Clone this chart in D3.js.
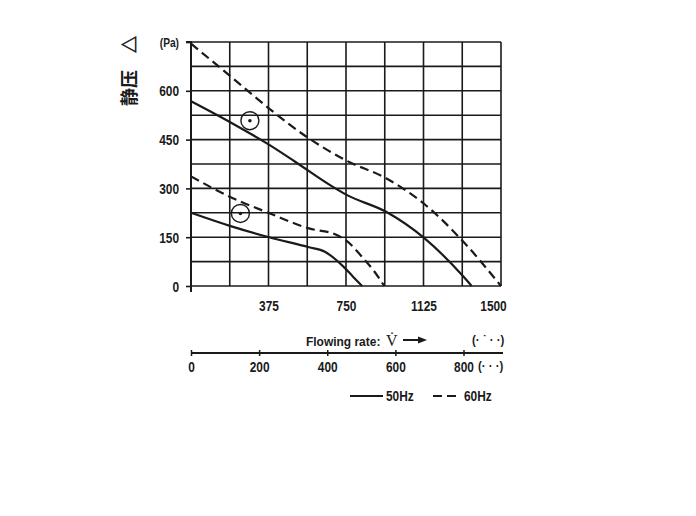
<!DOCTYPE html>
<html>
<head>
<meta charset="utf-8">
<script src="https://cdn.jsdelivr.net/npm/d3@7"></script>
<style>
  html, body { margin: 0; padding: 0; background: #ffffff; }
  svg text { font-family: "Liberation Sans", Arial, sans-serif; font-weight: bold; fill: #1a1a1a; }
</style>
</head>
<body>
<svg id="chart" width="696" height="516"></svg>
<script>
// ---- data ----
const xTicks = [375, 750, 1125, 1500];
const xGrid = [0, 187.5, 375, 562.5, 750, 937.5, 1125, 1312.5, 1500];
const yTicks = [0, 150, 300, 450, 600];
const yGrid = [0, 75, 150, 225, 300, 375, 450, 525, 600, 675, 750];
const flowTicks = [0, 200, 400, 600, 800];

// upper pair
const hz60Upper = [[0, 745], [194, 643], [381, 544], [570, 454], [753, 385], [944, 331], [1129, 252], [1318, 136], [1500, 0]];
const hz50Upper = [[0, 568], [194, 502], [381, 433], [504, 382], [673, 310], [753, 280], [944, 228], [1129, 147], [1318, 29], [1358, 0]];
// lower pair
const hz60Lower = [[0, 337], [192, 273], [382, 223], [571, 177], [700, 158], [750, 140], [834, 85], [882, 49], [935, 0]];
const hz50Lower = [[0, 225], [192, 184], [382, 149], [571, 119], [648, 105], [673, 95], [740, 58], [785, 28], [828, 0]];
// design-point markers
const markers = [[285, 508], [239, 223]];

const svg = d3.select("#chart");
const x = d3.scaleLinear().domain([0, 1500]).range([191, 501]);
const y = d3.scaleLinear().domain([0, 750]).range([286, 42]);
const xf = d3.scaleLinear().domain([0, 800]).range([191, 463.5]);

const ink = "#1a1a1a";
const SX = 0.85;   // horizontal condensing of the label font
const FS = 14;

function label(px, py, txt, opts = {}) {
  const t = svg.append("text")
    .attr("transform", `translate(${px},${py}) scale(${opts.sx || SX},1)`)
    .attr("text-anchor", opts.anchor || "start")
    .style("font-size", (opts.size || FS) + "px")
    .text(txt);
  if (opts.family) t.style("font-family", opts.family);
  if (opts.weight) t.style("font-weight", opts.weight);
  return t;
}

// grid
const g = svg.append("g");
g.selectAll("line.h").data(yGrid).join("line")
  .attr("x1", x(0)).attr("x2", x(1500))
  .attr("y1", d => y(d)).attr("y2", d => y(d))
  .attr("stroke", ink).attr("stroke-width", 1.6);
g.selectAll("line.v").data(xGrid).join("line")
  .attr("y1", y(0)).attr("y2", y(750))
  .attr("x1", d => x(d)).attr("x2", d => x(d))
  .attr("stroke", ink).attr("stroke-width", 1.6);

// y axis ticks + labels
const yAxis = d3.axisLeft(y).tickValues(yGrid.filter(d => d % 150 === 0 || d === 750)).tickSize(5).tickPadding(7)
  .tickFormat(d => yTicks.includes(d) ? d : "");
const ya = svg.append("g").attr("transform", `translate(${x(0)},0)`).call(yAxis);
ya.select(".domain").attr("stroke", ink).attr("stroke-width", 2).attr("d", `M-5,${y(750)}H0V${y(0) + 6}`);
ya.selectAll(".tick line").attr("stroke", ink).attr("stroke-width", 1.6);
ya.selectAll(".tick text").style("font-size", FS + "px").attr("dy", "0.36em")
  .attr("x", -12 / SX).attr("transform", `scale(${SX},1)`);

// (Pa)
label(179, 47, "(Pa)", {anchor: "end", size: 12});

// x axis labels
const xAxis = d3.axisBottom(x).tickValues(xTicks).tickSize(0).tickPadding(15).tickFormat(d => d);
const xa = svg.append("g").attr("transform", `translate(0,${y(0)})`).call(xAxis);
xa.select(".domain").remove();
xa.selectAll(".tick text").style("font-size", FS + "px")
  .attr("transform", `scale(${SX},1)`)
  .attr("x", d => (d === 1500 ? -8 : 0) / SX);

// y label (rotated)
const cjk = "'Noto Sans CJK JP', 'Noto Sans CJK SC', sans-serif";
svg.append("text").attr("transform", "translate(128,106) rotate(-90)")
  .attr("dominant-baseline", "central")
  .style("font-family", cjk).style("font-size", "18px").style("font-weight", "bold")
  .text("静压");
svg.append("text").attr("transform", "translate(128,53) rotate(-90)")
  .attr("dominant-baseline", "central")
  .style("font-family", cjk).style("font-size", "17px").style("font-weight", "bold")
  .attr("stroke", ink).attr("stroke-width", 0.6)
  .text("△");

// curves
const line = d3.line().x(d => x(d[0])).y(d => y(d[1])).curve(d3.curveMonotoneX);
const curves = [
  {data: hz60Upper, dash: "9,5"},
  {data: hz50Upper, dash: null},
  {data: hz60Lower, dash: "9,5"},
  {data: hz50Lower, dash: null}
];
svg.selectAll("path.curve").data(curves).join("path")
  .attr("class", "curve")
  .attr("d", d => line(d.data))
  .attr("fill", "none").attr("stroke", ink).attr("stroke-width", 2.2)
  .attr("stroke-dasharray", d => d.dash);

// markers
svg.selectAll("circle.m").data(markers).join("circle")
  .attr("cx", d => x(d[0])).attr("cy", d => y(d[1])).attr("r", 9)
  .attr("fill", "none").attr("stroke", ink).attr("stroke-width", 1.4);
svg.selectAll("circle.d").data(markers).join("circle")
  .attr("cx", d => x(d[0])).attr("cy", d => y(d[1])).attr("r", 1.8)
  .attr("fill", ink);

// flow axis
const fa = svg.append("g").attr("transform", "translate(0,353)")
  .call(d3.axisBottom(xf).tickValues(flowTicks).tickSize(0).tickPadding(9));
fa.select(".domain").attr("stroke", ink).attr("stroke-width", 2).attr("d", `M${xf(0)},0H503`);
fa.selectAll(".tick text").style("font-size", FS + "px").attr("transform", `scale(${SX},1)`);
fa.selectAll(".tick").append("line").attr("y1", -3).attr("y2", 3).attr("stroke", ink).attr("stroke-width", 1.5);

label(306, 346, "Flowing rate:", {size: 13, sx: 0.92});
label(386, 346, "V\u0307", {size: 16, sx: 1, family: "'Liberation Serif', serif", weight: "normal"});
svg.append("line").attr("x1", 403).attr("x2", 420).attr("y1", 340).attr("y2", 340).attr("stroke", ink).attr("stroke-width", 2);
svg.append("path").attr("d", "M418,336.5 L427,340 L418,343.5 Z").attr("fill", ink);
label(472, 344, "(· ˙ · ·)", {size: 12, sx: 0.95});
label(478, 370, "(· · ·)", {size: 12, sx: 0.95});

// legend
svg.append("line").attr("x1", 350).attr("x2", 383).attr("y1", 396).attr("y2", 396).attr("stroke", ink).attr("stroke-width", 2.2);
label(386, 401, "50Hz");
svg.append("line").attr("x1", 433).attr("x2", 457).attr("y1", 396).attr("y2", 396).attr("stroke", ink).attr("stroke-width", 2.2).attr("stroke-dasharray", "9,5");
label(464, 401, "60Hz");
</script>
</body>
</html>
